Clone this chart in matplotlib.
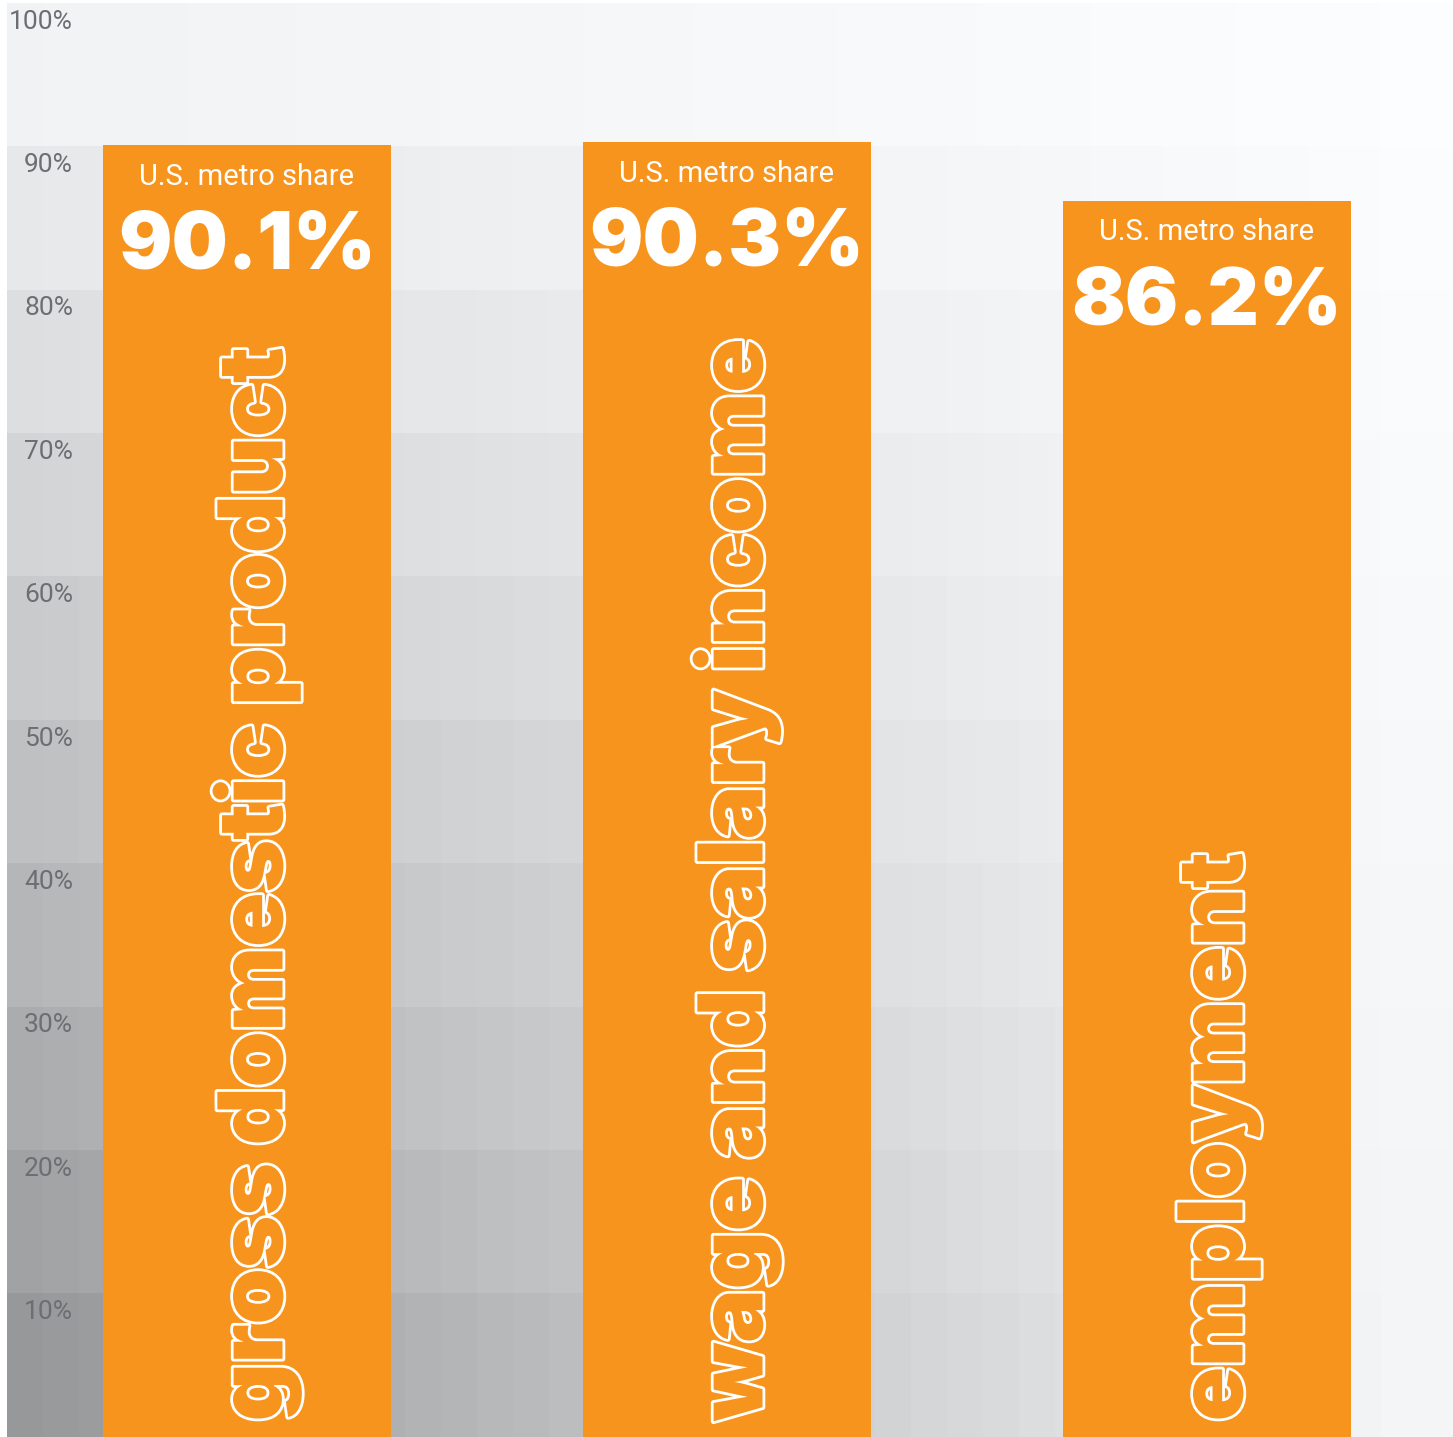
import matplotlib
matplotlib.use("Agg")
import matplotlib.pyplot as plt
import matplotlib.patheffects as pe
import numpy as np

# data
categories = ["gross domestic product", "wage and salary income", "employment"]
shares = [90.1, 90.3, 86.2]
share_labels = ["90.1%", "90.3%", "86.2%"]
tick_values = [10, 20, 30, 40, 50, 60, 70, 80, 90, 100]
tick_labels = ["10%", "20%", "30%", "40%", "50%", "60%", "70%", "80%", "90%", "100%"]

bar_color = "#F7941E"
tick_color = "#6d6e71"

fig = plt.figure(figsize=(14.53, 14.37), dpi=100)
ax = fig.add_axes([7 / 1453, 0, 1 - 7 / 1453, 1 - 3 / 1437])

x_left, x_right = -0.5, 2.5125

# background: 10 bands, each fading from grey on the left to white on the right
n_cols = 40
bg = np.zeros((10, n_cols, 3))
for b in range(10):
    left = 152 + b * 10.1
    right = 245 + b * 0.9
    for c in range(n_cols):
        f = min(1.0, c / (n_cols - 1) * 1.04)
        g = left + (right - left) * f
        bg[9 - b, c] = [g - 1, g, g + 2]
bg = np.clip(bg / 255.0, 0, 1)
ax.imshow(bg, extent=(x_left, x_right, 0, 100), aspect="auto",
          interpolation="nearest", zorder=0)

xpos = np.arange(len(categories))
ax.bar(xpos, shares, width=0.6, color=bar_color, zorder=2)

for i, (cat, val, lab) in enumerate(zip(categories, shares, share_labels)):
    ax.text(i, val - 2.2, "U.S. metro share", ha="center", va="center",
            color="white", fontsize=21, family=["Roboto", "DejaVu Sans"], zorder=3)
    ax.text(i, val - 8.6, lab, ha="center", va="baseline", color="white",
            fontsize=57, family=["Inter", "DejaVu Sans"], fontweight=900, zorder=3)
    ax.text(i + 0.074, 1.1, cat, rotation=90, rotation_mode="anchor",
            ha="left", va="baseline", color=bar_color, fontsize=64.5,
            family=["Inter", "DejaVu Sans"], fontweight=900, zorder=3,
            path_effects=[pe.Stroke(linewidth=4, foreground="white"), pe.Normal()])

for v, t in zip(tick_values, tick_labels):
    ax.text(-0.3625, v - 1.3, t, ha="right", va="center", color=tick_color,
            fontsize=19, family=["Roboto", "DejaVu Sans"], zorder=1)

ax.set_xlim(x_left, x_right)
ax.set_ylim(0, 100)
ax.axis("off")

fig.savefig("out.png", dpi=100)
